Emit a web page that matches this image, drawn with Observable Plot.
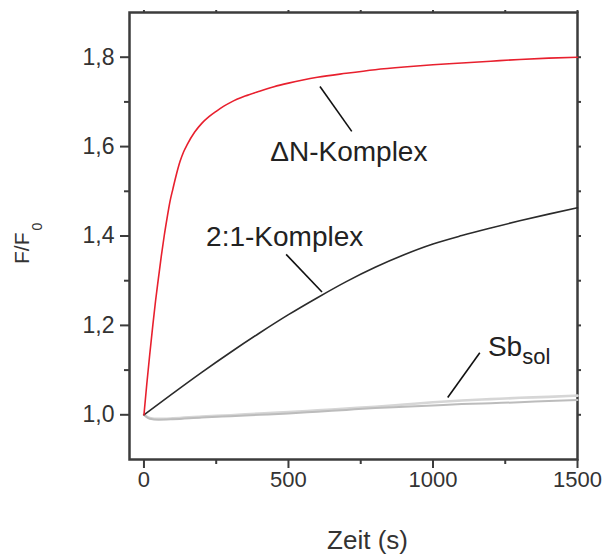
<!DOCTYPE html>
<html>
<head>
<meta charset="utf-8">
<script src="https://cdn.jsdelivr.net/npm/d3@7"></script>
<script src="https://cdn.jsdelivr.net/npm/@observablehq/plot@0.6"></script>
<style>
  html, body { margin: 0; padding: 0; background: #fff; }
</style>
</head>
<body>
<div id="chart"></div>
<script>
// ---- Data ----
const redT = [0,10,20,30,40,50,60,70,80,90,100,112,125,137,150,175,200,225,250,275,300,350,400,450,500,550,600,700,800,900,1000,1100,1200,1300,1400,1500];
const redY = [1.0,1.07,1.135,1.196,1.254,1.305,1.355,1.40,1.44,1.477,1.505,1.537,1.567,1.588,1.605,1.632,1.652,1.667,1.679,1.69,1.699,1.713,1.724,1.734,1.742,1.749,1.755,1.764,1.772,1.778,1.783,1.787,1.791,1.795,1.798,1.800];

const blackT = [0,100,200,300,400,500,600,700,800,900,1000,1100,1200,1300,1400,1500];
const blackY = [1.0,1.048,1.095,1.140,1.183,1.224,1.262,1.298,1.330,1.358,1.382,1.401,1.418,1.434,1.449,1.463];

const grayT = [0,20,50,100,200,300,400,500,600,700,800,900,1000,1100,1200,1300,1400,1500];
const lightGrayY = [1.0,0.993,0.991,0.992,0.996,0.999,1.003,1.006,1.010,1.014,1.018,1.023,1.028,1.032,1.035,1.038,1.040,1.043];
const darkGrayY  = [1.0,0.991,0.989,0.990,0.994,0.997,1.000,1.003,1.007,1.011,1.015,1.018,1.021,1.024,1.026,1.028,1.031,1.033];

const xMajor = [0,500,1000,1500];
const xMinor = [250,750,1250];
const yMajor = [1.0,1.2,1.4,1.6,1.8];
const yMinor = [1.1,1.3,1.5,1.7];

// annotation labels (data coordinates)
const labelText = ["ΔN-Komplex","2:1-Komplex","Sb_sol"];
const labelT = [437,215,1190];
const labelY = [1.567,1.377,1.1317];
// pointer lines
const ptrT1 = [609,492,1162];
const ptrY1 = [1.7345,1.359,1.139];
const ptrT2 = [719,616,1051];
const ptrY2 = [1.634,1.2746,1.0386];

const xLabel = "Zeit (s)";
const yLabel = "F/F_0";

// ---- Build tables ----
const red = redT.map((t,i)=>({t, y: redY[i]}));
const black = blackT.map((t,i)=>({t, y: blackY[i]}));
const lightGray = grayT.map((t,i)=>({t, y: lightGrayY[i]}));
const darkGray = grayT.map((t,i)=>({t, y: darkGrayY[i]}));
const labels = labelText.map((s,i)=>({s, t: labelT[i], y: labelY[i]}));
const ptrs = ptrT1.map((t,i)=>({t1: t, y1: ptrY1[i], t2: ptrT2[i], y2: ptrY2[i]}));

const fmtY = d => d.toFixed(1).replace(".", ",");
const fmtX = d => String(d);
const axisColor = "#3c3c3c";
const textColor = "#333";

const chart = Plot.plot({
  width: 604,
  height: 555,
  marginLeft: 129,
  marginRight: 27,
  marginTop: 12,
  marginBottom: 96,
  style: {fontFamily: "'Liberation Sans', Arial, sans-serif", background: "#fff", color: textColor},
  x: {domain: [-50, 1500]},
  y: {domain: [0.9, 1.9]},
  marks: [
    // axes
    Plot.axisX({ticks: xMajor, tickFormat: fmtX, tickSize: 9, tickPadding: 3, fontSize: 22, label: null, stroke: axisColor, strokeWidth: 2, color: textColor}),
    Plot.axisX({ticks: xMinor, tickSize: 5, text: null, label: null, stroke: axisColor, strokeWidth: 2}),
    Plot.axisX({anchor: "top", ticks: xMajor.concat(xMinor), tickSize: 3, text: null, label: null, stroke: axisColor, strokeWidth: 2}),
    Plot.axisY({ticks: yMajor, tickSize: 9, tickPadding: 6, fontSize: 23, tickFormat: fmtY, label: null, stroke: axisColor, strokeWidth: 2, color: textColor}),
    Plot.axisY({ticks: yMinor, tickSize: 5, text: null, label: null, stroke: axisColor, strokeWidth: 2}),
    Plot.axisY({anchor: "right", ticks: yMajor.concat(yMinor), tickSize: 3, text: null, label: null, stroke: axisColor, strokeWidth: 2}),
    Plot.frame({stroke: axisColor, strokeWidth: 2.5}),
    // curves
    Plot.line(lightGray, {x: "t", y: "y", stroke: "#d6d6d6", strokeWidth: 2.6, curve: "monotone-x"}),
    Plot.line(darkGray, {x: "t", y: "y", stroke: "#bcbcbc", strokeWidth: 2, curve: "monotone-x"}),
    Plot.line(black, {x: "t", y: "y", stroke: "#2b2b2b", strokeWidth: 1.6, curve: "monotone-x"}),
    Plot.line(red, {x: "t", y: "y", stroke: "#e8202e", strokeWidth: 1.6, curve: "monotone-x"}),
    // annotations
    Plot.link(ptrs, {x1: "t1", y1: "y1", x2: "t2", y2: "y2", stroke: "#111", strokeWidth: 1.6}),
    Plot.text(labels, {x: "t", y: "y", text: "s", textAnchor: "start", lineAnchor: "bottom", fontSize: 28, fill: "#222"}),
    // axis titles
    Plot.text([xLabel], {frameAnchor: "bottom", text: d => d, dx: 14, dy: 89, lineAnchor: "bottom", fontSize: 26, fill: textColor}),
    Plot.text([yLabel], {frameAnchor: "left", text: d => d, dx: -101, dy: 28, rotate: -90, textAnchor: "start", lineAnchor: "bottom", fontSize: 21, fill: textColor})
  ]
});

// subscripts
d3.select(chart).selectAll("text").each(function() {
  const el = d3.select(this);
  const s = el.text();
  if (s.includes("_") && this.children.length === 0) {
    const [base, sub] = s.split("_");
    const big = base === "Sb";
    el.text("");
    el.append("tspan").text(base);
    if (big) el.append("tspan").attr("dy", "0.36em").attr("font-size", 22).text(sub);
    else el.append("tspan").attr("dx", 2).attr("dy", 13).attr("font-size", 14).text(sub);
  }
});

document.getElementById("chart").appendChild(chart);
</script>
</body>
</html>
